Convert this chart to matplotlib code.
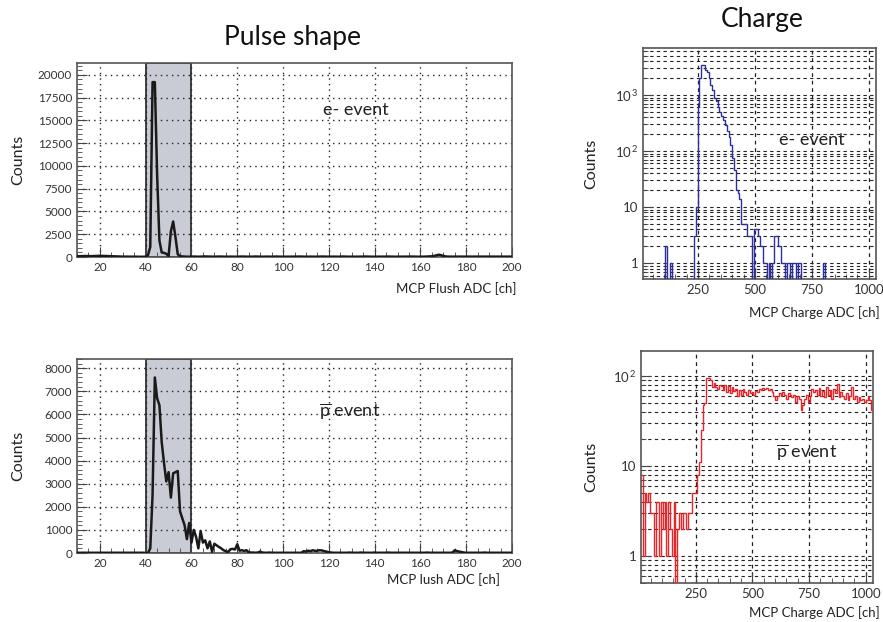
import numpy as np
import matplotlib
matplotlib.use("Agg")
import matplotlib.pyplot as plt
from matplotlib.ticker import MultipleLocator, FixedLocator, FuncFormatter, LogLocator, NullFormatter

plt.rcParams['font.family'] = ['Lato', 'DejaVu Sans']
plt.rcParams['mathtext.fontset'] = 'custom'
plt.rcParams['mathtext.rm'] = 'Lato'
plt.rcParams['mathtext.it'] = 'Lato:italic'

# ---------------- data ----------------
pulse_channels = list(range(10, 201))

pulse_e = [
    # ch 10-39
    80, 90, 100, 120, 110, 100, 90, 100, 110, 120, 130, 120, 100, 90, 80, 70, 60, 60, 50, 50,
    40, 40, 30, 30, 30, 30, 30, 20, 20, 30,
    # ch 40-59
    30, 200, 1100, 19200, 19200, 9000, 1800, 500, 450, 350,
    100, 2800, 3900, 2200, 300, 100, 60, 40, 30, 30,
    # ch 60-199
    40, 50, 40, 30, 40, 50, 60, 50, 40, 30, 30, 40, 50, 40, 30, 30, 40, 40, 30, 30,
    30, 40, 50, 40, 30, 30, 30, 40, 50, 40, 30, 30, 40, 40, 30, 30, 40, 50, 40, 30,
    30, 30, 40, 40, 30, 30, 40, 50, 40, 30, 30, 40, 40, 30, 30, 30, 40, 50, 40, 30,
    30, 40, 40, 30, 30, 40, 50, 40, 30, 30, 30, 40, 40, 30, 30, 40, 50, 40, 30, 30,
    30, 40, 40, 30, 30, 40, 50, 40, 30, 30, 30, 40, 40, 30, 30, 40, 50, 40, 30, 30,
    30, 40, 40, 50, 60, 80, 120, 180, 250, 200, 120, 60, 40, 40, 30, 30, 40, 50, 40, 30,
    30, 40, 40, 30, 30, 30, 40, 40, 30, 30, 40, 50, 40, 30, 30, 40, 40, 30, 30, 40,
    # ch 200
    40,
]

pulse_pbar = [
    # ch 10-39
    10, 10, 10, 10, 10, 10, 10, 10, 10, 10, 10, 10, 10, 10, 10, 10, 10, 10, 10, 10,
    10, 10, 10, 10, 10, 10, 10, 10, 10, 10,
    # ch 40-89
    0, 0, 200, 2500, 7600, 6700, 6400, 4800, 3900, 3100,
    3500, 2400, 3450, 3500, 3550, 1800, 1500, 1200, 600, 1300,
    450, 1000, 700, 200, 950, 450, 550, 200, 500, 50,
    400, 330, 260, 200, 120, 80, 40, 160, 180, 150,
    380, 100, 120, 90, 120, 30, 20, 20, 10, 20,
    # ch 90-189
    60, 20, 10, 10, 20, 10, 10, 10, 10, 10, 10, 10, 10, 10, 10, 10, 10, 10, 10, 80,
    60, 100, 80, 120, 90, 100, 120, 110, 80, 60, 30, 20, 10, 10, 10, 10, 10, 10, 10, 20,
    10, 10, 10, 10, 20, 10, 10, 10, 10, 10, 20, 10, 10, 10, 10, 10, 20, 10, 10, 10,
    10, 10, 10, 10, 10, 10, 10, 10, 10, 10, 10, 10, 10, 20, 10, 10, 10, 10, 10, 10,
    10, 10, 10, 10, 20, 120, 80, 60, 40, 20, 10, 10, 10, 10, 10, 10, 10, 10, 20, 10,
    # ch 190-200
    10, 10, 10, 10, 10, 10, 10, 10, 10, 10, 10,
]

charge_edges = list(range(8, 1033, 8))

charge_e = [
    0, 0, 0, 0, 0, 0, 0, 0, 0, 0, 0, 0, 2, 0, 0, 1,
    0, 0, 0, 0, 0, 0, 0, 0, 0, 0, 0, 0, 3, 10, 600, 2000,
    3400, 3400, 2800, 2600, 2000, 1500, 1230, 900, 780, 620, 500, 420, 360, 290, 230, 180,
    130, 75, 45, 20, 18, 14, 5, 5, 5, 3, 3, 3, 0, 4, 4, 3,
    2, 2, 1, 1, 0, 1, 0, 1, 3, 3, 2, 2, 1, 1, 0, 1,
    1, 0, 1, 1, 0, 1, 1, 0, 0, 0, 0, 0, 0, 0, 0, 0,
    0, 0, 0, 1, 0, 0, 0, 0, 0, 0, 0, 0, 0, 0, 0, 0,
    0, 0, 0, 0, 0, 0, 0, 0, 0, 0, 0, 0, 0, 0, 0, 0,
]

charge_pbar = [
    8, 1, 5, 4, 5, 3, 3, 1, 4, 4, 1, 4, 2, 4, 1, 4,
    2, 1, 4, 0, 2, 3, 2, 3, 3, 2, 3, 3, 5, 5, 5, 8,
    11, 25, 48, 50, 94, 96, 90, 76, 84, 76, 72, 80, 78, 70, 80, 66,
    78, 64, 76, 68, 72, 60, 70, 62, 72, 66, 62, 70, 64, 66, 62, 68,
    66, 72, 70, 74, 72, 74, 70, 72, 66, 60, 54, 60, 64, 60, 66, 62,
    56, 64, 62, 58, 62, 52, 60, 56, 42, 48, 56, 62, 52, 60, 72, 66,
    70, 62, 74, 60, 68, 58, 76, 62, 70, 56, 72, 64, 82, 58, 66, 60,
    56, 64, 54, 60, 76, 56, 60, 52, 58, 54, 56, 52, 54, 60, 54, 42,
]

window = (40, 60)

# ---------------- figure ----------------
fig = plt.figure(figsize=(8.83, 6.22), dpi=100)

W, H = 883.0, 622.0
def box(l, t, r, b):
    return [l / W, 1 - b / H, (r - l) / W, (b - t) / H]

ax_tl = fig.add_axes(box(77, 63, 512, 257))
ax_bl = fig.add_axes(box(77, 359, 512, 553))
ax_tr = fig.add_axes(box(643, 48, 876, 279))
ax_br = fig.add_axes(box(641, 351, 873, 583))

tick_color = '#333333'
dot = (0, (1, 3))
dash = (0, (3, 3))

def style_common(ax):
    for s in ax.spines.values():
        s.set_color('#555555')
        s.set_linewidth(1.2)
    ax.tick_params(which='both', direction='in', colors='#444444', labelcolor=tick_color,
                   labelsize=8.5, top=False, right=False)
    ax.tick_params(which='major', length=7, width=0.8)
    ax.tick_params(which='minor', length=3.5, width=0.6)
    ax.set_axisbelow(True)

def pulse_panel(ax, values, ymax, ystep, yminor, xlabel, xl_x, xl_y):
    style_common(ax)
    ax.axvspan(window[0], window[1], facecolor='#c9ccd5', edgecolor='#222222',
               linewidth=1.2, zorder=0.3)
    ax.plot(pulse_channels, values, color='#1a1a1a', lw=1.8, zorder=3)
    ax.set_xlim(10, 200)
    ax.set_ylim(0, ymax)
    ax.xaxis.set_major_locator(MultipleLocator(20))
    ax.xaxis.set_minor_locator(MultipleLocator(5))
    ax.yaxis.set_major_locator(MultipleLocator(ystep))
    ax.yaxis.set_minor_locator(MultipleLocator(yminor))
    ax.grid(True, which='major', color='#222222', linestyle=dot, linewidth=1.0)
    ax.set_ylabel('Counts', fontsize=11.5, color='#222222')
    ax.yaxis.set_label_coords(-0.118, 0.5)
    ax.set_xlabel(xlabel, fontsize=9.5, color='#222222', ha='right', va='center')
    ax.xaxis.set_label_coords(xl_x, xl_y)

pulse_panel(ax_tl, pulse_e, 21300, 2500, 500, 'MCP Flush ADC [ch]', 1.011, -0.165)
pulse_panel(ax_bl, pulse_pbar, 8400, 1000, 200, 'MCP lush ADC [ch]', 0.972, -0.139)

ax_tl.text(0.641, 0.758, 'e- event', transform=ax_tl.transAxes, fontsize=13,
           ha='center', va='center', color='#222222')
ax_bl.text(0.628, 0.73, r'$\overline{\mathrm{p}}$ event', transform=ax_bl.transAxes,
           fontsize=13, ha='center', va='center', color='#222222')

def log_fmt(v, pos):
    if v <= 0:
        return ''
    e = int(round(np.log10(v)))
    if abs(v - 10 ** e) > 1e-6 * v:
        return ''
    if e == 0:
        return '1'
    if e == 1:
        return '10'
    return r'$10^{\,%d}$' % e

def charge_panel(ax, values, color, ylim, label, ypos, xpos, yl_x, xl_x, xl_y):
    style_common(ax)
    ax.set_yscale('log')
    ax.stairs(values, charge_edges, color=color, lw=1.0, baseline=None, zorder=3)
    ax.set_xlim(charge_edges[0], charge_edges[-1])
    ax.set_ylim(*ylim)
    ax.xaxis.set_major_locator(FixedLocator([250, 500, 750, 1000]))
    ax.xaxis.set_minor_locator(MultipleLocator(50))
    ax.yaxis.set_major_locator(LogLocator(base=10, numticks=10))
    ax.yaxis.set_minor_locator(LogLocator(base=10, subs=np.arange(2, 10), numticks=20))
    ax.yaxis.set_major_formatter(FuncFormatter(log_fmt))
    ax.yaxis.set_minor_formatter(NullFormatter())
    ax.grid(True, which='major', axis='x', color='#222222', linestyle=dash, linewidth=0.9)
    ax.grid(True, which='both', axis='y', color='#222222', linestyle=dash, linewidth=0.8)
    ax.tick_params(axis='y', labelsize=9.5)
    ax.tick_params(axis='x', labelsize=9.5)
    ax.set_ylabel('Counts', fontsize=11.5, color='#222222')
    ax.yaxis.set_label_coords(yl_x, 0.5)
    ax.set_xlabel('MCP Charge ADC [ch]', fontsize=9.5, color='#222222', ha='right', va='center')
    ax.xaxis.set_label_coords(xl_x, xl_y)
    ax.text(xpos, ypos, label, transform=ax.transAxes, fontsize=13,
            ha='center', va='center', color='#222222')

charge_panel(ax_tr, charge_e, '#2e2e9c', (0.52, 6900), 'e- event', 0.60, 0.725,
             -0.193, 1.017, -0.143)
charge_panel(ax_br, charge_pbar, '#e8262a', (0.5, 190), r'$\overline{\mathrm{p}}$ event',
             0.565, 0.716, -0.186, 1.03, -0.129)

fig.text(293 / W, 1 - 38 / H, 'Pulse shape', fontsize=19, ha='center', va='center', color='#111111')
fig.text(762 / W, 1 - 20 / H, 'Charge', fontsize=19, ha='center', va='center', color='#111111')

fig.savefig('out.png', dpi=100)
